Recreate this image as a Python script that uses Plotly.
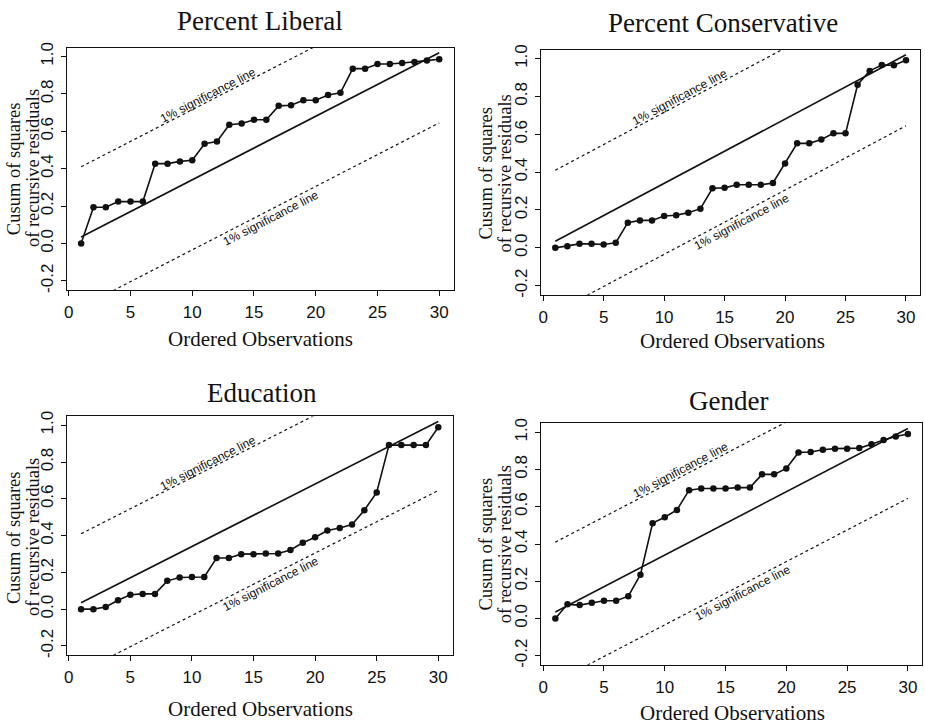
import math
import plotly.graph_objects as go

# ---------------- data ----------------
obs = list(range(1, 31))

percent_liberal = [0.0, 0.194, 0.194, 0.224, 0.224, 0.224, 0.427, 0.427, 0.439, 0.445,
                   0.533, 0.545, 0.635, 0.642, 0.662, 0.662, 0.736, 0.739, 0.766, 0.766,
                   0.794, 0.806, 0.935, 0.935, 0.960, 0.960, 0.965, 0.970, 0.978, 0.985]

percent_conservative = [0.0, 0.009, 0.021, 0.021, 0.018, 0.027, 0.133, 0.145, 0.145, 0.168,
                        0.172, 0.186, 0.207, 0.315, 0.317, 0.333, 0.333, 0.333, 0.343, 0.446,
                        0.552, 0.552, 0.573, 0.605, 0.605, 0.862, 0.935, 0.966, 0.965, 0.991]

education = [0.0, 0.0, 0.012, 0.048, 0.078, 0.083, 0.083, 0.154, 0.172, 0.175,
             0.175, 0.278, 0.278, 0.299, 0.299, 0.303, 0.303, 0.322, 0.361, 0.391,
             0.428, 0.441, 0.460, 0.538, 0.635, 0.892, 0.892, 0.892, 0.892, 0.989]

gender = [0.0, 0.076, 0.072, 0.085, 0.095, 0.095, 0.120, 0.235, 0.512, 0.544,
          0.583, 0.689, 0.698, 0.698, 0.698, 0.703, 0.703, 0.774, 0.774, 0.806,
          0.892, 0.894, 0.906, 0.912, 0.912, 0.915, 0.936, 0.959, 0.977, 0.991]

# expected line and 1% significance bounds (end points)
ref_x = [1, 30]
ref_mid = [0.035, 1.02]
sig_upper = [0.41, 1.395]
sig_lower = [-0.34, 0.645]

panel_titles = ["Percent Liberal", "Percent Conservative", "Education", "Gender"]
panel_series = [percent_liberal, percent_conservative, education, gender]

x_tick_vals = [0, 5, 10, 15, 20, 25, 30]
x_tick_text = ["0", "5", "10", "15", "20", "25", "30"]
y_tick_vals = [-0.2, 0.0, 0.2, 0.4, 0.6, 0.8, 1.0]
y_tick_text = ["-0.2", "0.0", "0.2", "0.4", "0.6", "0.8", "1.0"]

x_label = "Ordered Observations"
y_label_lines = ["Cusum of squares", "of recursive residuals"]
sig_label = "1% significance line"
upper_label_pos = (11.3, 0.795)
lower_label_pos = (16.4, 0.135)

# ---------------- layout geometry (pixels) ----------------
W, H = 925, 727
boxes = [  # left, right, top, bottom
    (64, 452, 43, 288),
    (540, 920, 45, 293),
    (64, 451, 416, 657),
    (540, 922, 423, 667),
]
title_pos = [(258, 16), (722, 18), (260, 392), (728, 400)]
xlab_pos = [(258, 338), (732, 340), (258, 712), (732, 716)]
ylab_pos = [(11, 30, 165), (485, 504, 170), (11, 30, 538), (485, 504, 545)]

XR = [-0.16, 31.16]
YR = [-0.248, 1.048]

SERIF = "Liberation Serif"
SANS = "Liberation Sans"
INK = "#111111"

fig = go.Figure()
annotations = []
layout_axes = {}

for i, (title, series) in enumerate(zip(panel_titles, panel_series)):
    n = i + 1
    xa = "x" if n == 1 else f"x{n}"
    ya = "y" if n == 1 else f"y{n}"
    xkey = "xaxis" if n == 1 else f"xaxis{n}"
    ykey = "yaxis" if n == 1 else f"yaxis{n}"
    l, r, t, b = boxes[i]

    # significance bounds
    for yy in (sig_upper, sig_lower):
        fig.add_trace(go.Scatter(x=ref_x, y=yy, mode="lines", xaxis=xa, yaxis=ya,
                                 line=dict(color=INK, width=1.2, dash="3px,3px"),
                                 showlegend=False, hoverinfo="skip"))
    # expected line
    fig.add_trace(go.Scatter(x=ref_x, y=ref_mid, mode="lines", xaxis=xa, yaxis=ya,
                             line=dict(color=INK, width=1.6),
                             showlegend=False, hoverinfo="skip"))
    # cusum series
    fig.add_trace(go.Scatter(x=obs, y=series, mode="lines+markers", xaxis=xa, yaxis=ya,
                             line=dict(color=INK, width=1.6),
                             marker=dict(color=INK, size=6.5),
                             showlegend=False))

    common = dict(showline=True, linecolor=INK, linewidth=1.4, mirror=True,
                  ticks="outside", ticklen=5, tickwidth=1.2, tickcolor=INK,
                  showgrid=False, zeroline=False,
                  tickfont=dict(family=SANS, size=17, color=INK))
    layout_axes[xkey] = dict(domain=[l / W, r / W], range=XR, anchor=ya,
                             tickmode="array", tickvals=x_tick_vals, ticktext=x_tick_text,
                             ticklabelstandoff=2, **common)
    layout_axes[ykey] = dict(domain=[1 - b / H, 1 - t / H], range=YR, anchor=xa,
                             tickmode="array", tickvals=y_tick_vals, ticktext=y_tick_text,
                             tickangle=-90, ticklabelstandoff=1, **common)

    # pixel-based angle of the reference lines
    sx = (r - l) / (XR[1] - XR[0])
    sy = (b - t) / (YR[1] - YR[0])
    slope = (ref_mid[1] - ref_mid[0]) / (ref_x[1] - ref_x[0])
    ang = -math.degrees(math.atan(slope * sy / sx))

    for (px, py) in (upper_label_pos, lower_label_pos):
        annotations.append(dict(x=px, y=py, xref=xa, yref=ya, text=sig_label,
                                showarrow=False, textangle=ang,
                                font=dict(family=SANS, size=12, color=INK)))

    tx, ty = title_pos[i]
    annotations.append(dict(x=tx / W, y=1 - ty / H, xref="paper", yref="paper",
                            text=title, showarrow=False, xanchor="center", yanchor="middle",
                            font=dict(family=SERIF, size=27, color=INK)))
    lx, ly = xlab_pos[i]
    annotations.append(dict(x=lx / W, y=1 - ly / H, xref="paper", yref="paper",
                            text=x_label, showarrow=False, xanchor="center", yanchor="middle",
                            font=dict(family=SERIF, size=21, color=INK)))
    c1, c2, cy = ylab_pos[i]
    for cx, txt in zip((c1, c2), y_label_lines):
        annotations.append(dict(x=cx / W, y=1 - cy / H, xref="paper", yref="paper",
                                text=txt, showarrow=False, textangle=-90,
                                xanchor="center", yanchor="middle",
                                font=dict(family=SERIF, size=18.5, color=INK)))

fig.update_layout(width=W, height=H, margin=dict(l=0, r=0, t=0, b=0),
                  paper_bgcolor="white", plot_bgcolor="white",
                  annotations=annotations, showlegend=False, **layout_axes)

fig.write_html("out.html")
